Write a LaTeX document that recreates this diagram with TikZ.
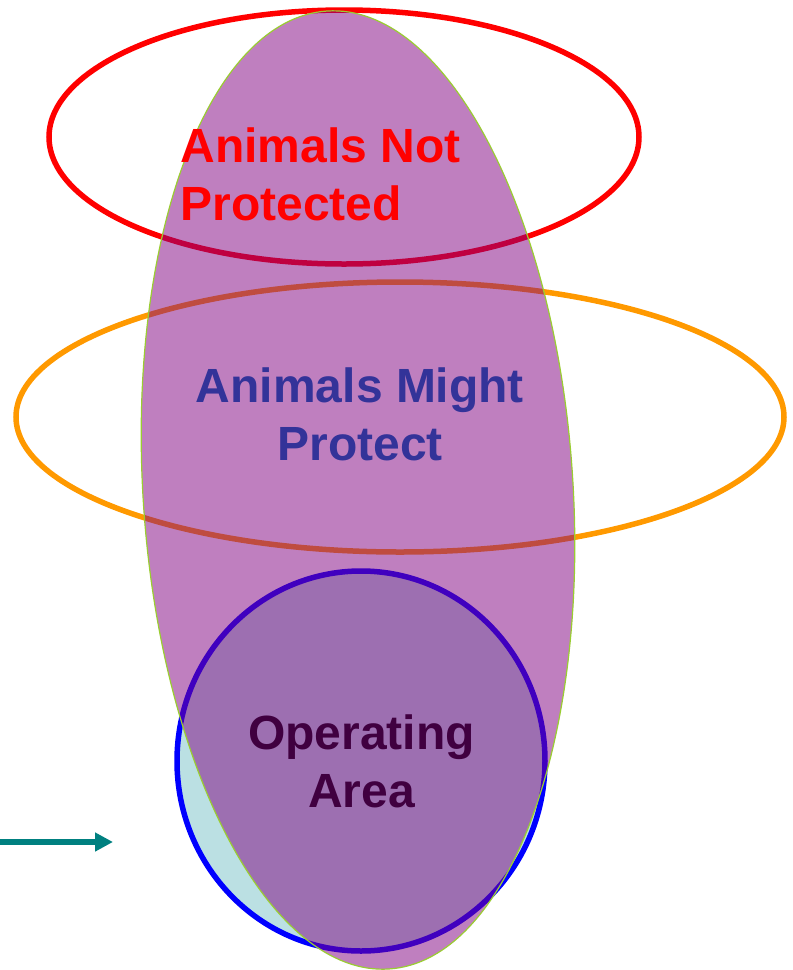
\documentclass[tikz,border=0pt]{standalone}
\usepackage{fontspec}
\setmainfont{Liberation Sans}
\usetikzlibrary{arrows.meta}
\definecolor{areacyan}{HTML}{BBE0E3}
\definecolor{mightorange}{HTML}{FF9900}
\definecolor{habitat}{HTML}{800080}
\definecolor{rimgreen}{HTML}{9ACD32}
\definecolor{mightblue}{HTML}{333399}
\definecolor{opdark}{HTML}{400040}
\definecolor{arrowteal}{HTML}{008080}
\tikzset{
    ring/.style={line width=5.5pt},
    zonetext/.style={font=\fontsize{48}{58}\selectfont\bfseries, align=center, inner sep=0pt},
}

\begin{document}
\begin{tikzpicture}[x=1pt, y=-1pt]
    \useasboundingbox (0,0) rectangle (793,970);
    \draw[ring, draw=blue, fill=areacyan] (361,761) ellipse [x radius=184pt, y radius=190pt];
    \draw[ring, draw=red] (344,137) ellipse [x radius=295pt, y radius=127pt];
    \draw[ring, draw=mightorange] (400,417) ellipse [x radius=384pt, y radius=135pt];
    \draw[rotate around={3.7:(358,490)}, draw=rimgreen, line width=1.2pt, fill=habitat, fill opacity=0.5]
        (358,490) ellipse [x radius=215pt, y radius=480pt];
    \node[zonetext, text=red, align=left] (notprot) at (320.5,174) {Animals Not\\Protected};
    \node[zonetext, text=mightblue] (mightprot) at (360,414) {Animals Might\\Protect};
    \node[zonetext, text=opdark] (oparea) at (361.5,761) {Operating\\Area};
    \coordinate (arrowtail) at (-4,842);
    \coordinate (arrowtip) at (113,842);
    \draw[line width=6pt, draw=arrowteal, -{Triangle[length=18pt, width=18pt]}] (arrowtail) -- (arrowtip);
\end{tikzpicture}
\end{document}
